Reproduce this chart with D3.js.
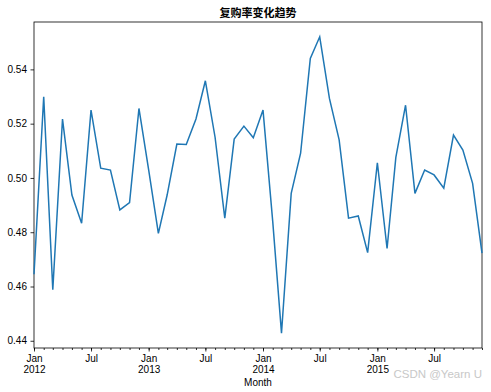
<!DOCTYPE html>
<html>
<head>
<meta charset="utf-8">
<script src="https://cdn.jsdelivr.net/npm/d3@7"></script>
<style>
  body { margin: 0; background: #fff; }
  svg text { font-family: "Liberation Sans", Arial, sans-serif; fill: #000; }
</style>
</head>
<body>
<div id="chart"></div>
<script>
// monthly repurchase rate, Jan 2012 - Dec 2015
const months = d3.timeMonths(new Date(2012, 0, 1), new Date(2016, 0, 1));
const rates = [
  0.4645, 0.5299, 0.4588, 0.5217, 0.4937, 0.4833, 0.5250, 0.5036, 0.5029, 0.4882, 0.4909, 0.5256,
  0.5030, 0.4796, 0.4937, 0.5125, 0.5123, 0.5217, 0.5358, 0.5150, 0.4852, 0.5143, 0.5191, 0.5148,
  0.5250, 0.4840, 0.4428, 0.4943, 0.5091, 0.5440, 0.5520, 0.5293, 0.5140, 0.4852, 0.4860, 0.4725,
  0.5056, 0.4740, 0.5076, 0.5268, 0.4943, 0.5029, 0.5011, 0.4962, 0.5158, 0.5103, 0.4980, 0.4723
];
const yTicks = [0.44, 0.46, 0.48, 0.50, 0.52, 0.54];
const titleText = "复购率变化趋势";
const xLabel = "Month";

const data = months.map((m, i) => ({month: m, rate: rates[i]}));

const W = 491, H = 392;
const margin = {top: 22, right: 9, bottom: 44, left: 34};
const width = W - margin.left - margin.right;
const height = H - margin.top - margin.bottom;

const svg = d3.select("#chart").append("svg")
  .attr("width", W)
  .attr("height", H);

const g = svg.append("g")
  .attr("transform", "translate(" + margin.left + "," + margin.top + ")");

const xScale = d3.scaleTime()
  .domain(d3.extent(months))
  .range([0, width]);

// matplotlib style 5% padding
const yMin = d3.min(rates), yMax = d3.max(rates);
const pad = (yMax - yMin) * 0.05;
const yScale = d3.scaleLinear()
  .domain([yMin - pad, yMax + pad])
  .range([height, 0]);

// minor ticks: every month
g.append("g")
  .attr("transform", "translate(0," + height + ")")
  .call(d3.axisBottom(xScale).tickValues(months).tickSize(2).tickFormat(""))
  .call(a => a.select(".domain").remove());

// major ticks: Jan / Jul
const majors = months.filter(m => m.getMonth() % 6 === 0);
const xAxisG = g.append("g")
  .attr("transform", "translate(0," + height + ")")
  .call(d3.axisBottom(xScale).tickValues(majors).tickSize(3.5).tickFormat(""));
xAxisG.select(".domain").remove();
xAxisG.selectAll(".tick").each(function (d) {
  const t = d3.select(this).append("text")
    .attr("text-anchor", "middle")
    .attr("y", 14)
    .attr("font-size", 10);
  t.append("tspan").attr("x", 0).text(d.getMonth() === 0 ? "Jan" : "Jul");
  if (d.getMonth() === 0) {
    t.append("tspan").attr("x", 0).attr("dy", 11).text(d.getFullYear());
  }
});

const yAxisG = g.append("g")
  .call(d3.axisLeft(yScale).tickValues(yTicks).tickSize(3.5).tickPadding(3.5)
    .tickFormat(d3.format(".2f")));
yAxisG.select(".domain").remove();
yAxisG.selectAll("text").attr("font-size", 10);
g.selectAll(".tick line").attr("stroke", "#000").attr("stroke-width", 0.8);

// frame
g.append("rect")
  .attr("width", width)
  .attr("height", height)
  .attr("fill", "none")
  .attr("stroke", "#000")
  .attr("stroke-width", 0.8);

const line = d3.line()
  .x(d => xScale(d.month))
  .y(d => yScale(d.rate));

g.append("path")
  .datum(data)
  .attr("d", line)
  .attr("fill", "none")
  .attr("stroke", "#1f77b4")
  .attr("stroke-width", 1.5);

svg.append("text")
  .attr("x", margin.left + width / 2)
  .attr("y", 17)
  .attr("text-anchor", "middle")
  .attr("font-size", 11)
  .attr("font-weight", "bold")
  .style("font-family", "'Noto Sans CJK SC', sans-serif")
  .text(titleText);

svg.append("text")
  .attr("x", margin.left + width / 2)
  .attr("y", 386)
  .attr("text-anchor", "middle")
  .attr("font-size", 10)
  .text(xLabel);

svg.append("text")
  .attr("x", 482)
  .attr("y", 378)
  .attr("text-anchor", "end")
  .attr("font-size", 11.5)
  .style("fill", "#c8c8c8")
  .text("CSDN @Yearn U");
</script>
</body>
</html>
